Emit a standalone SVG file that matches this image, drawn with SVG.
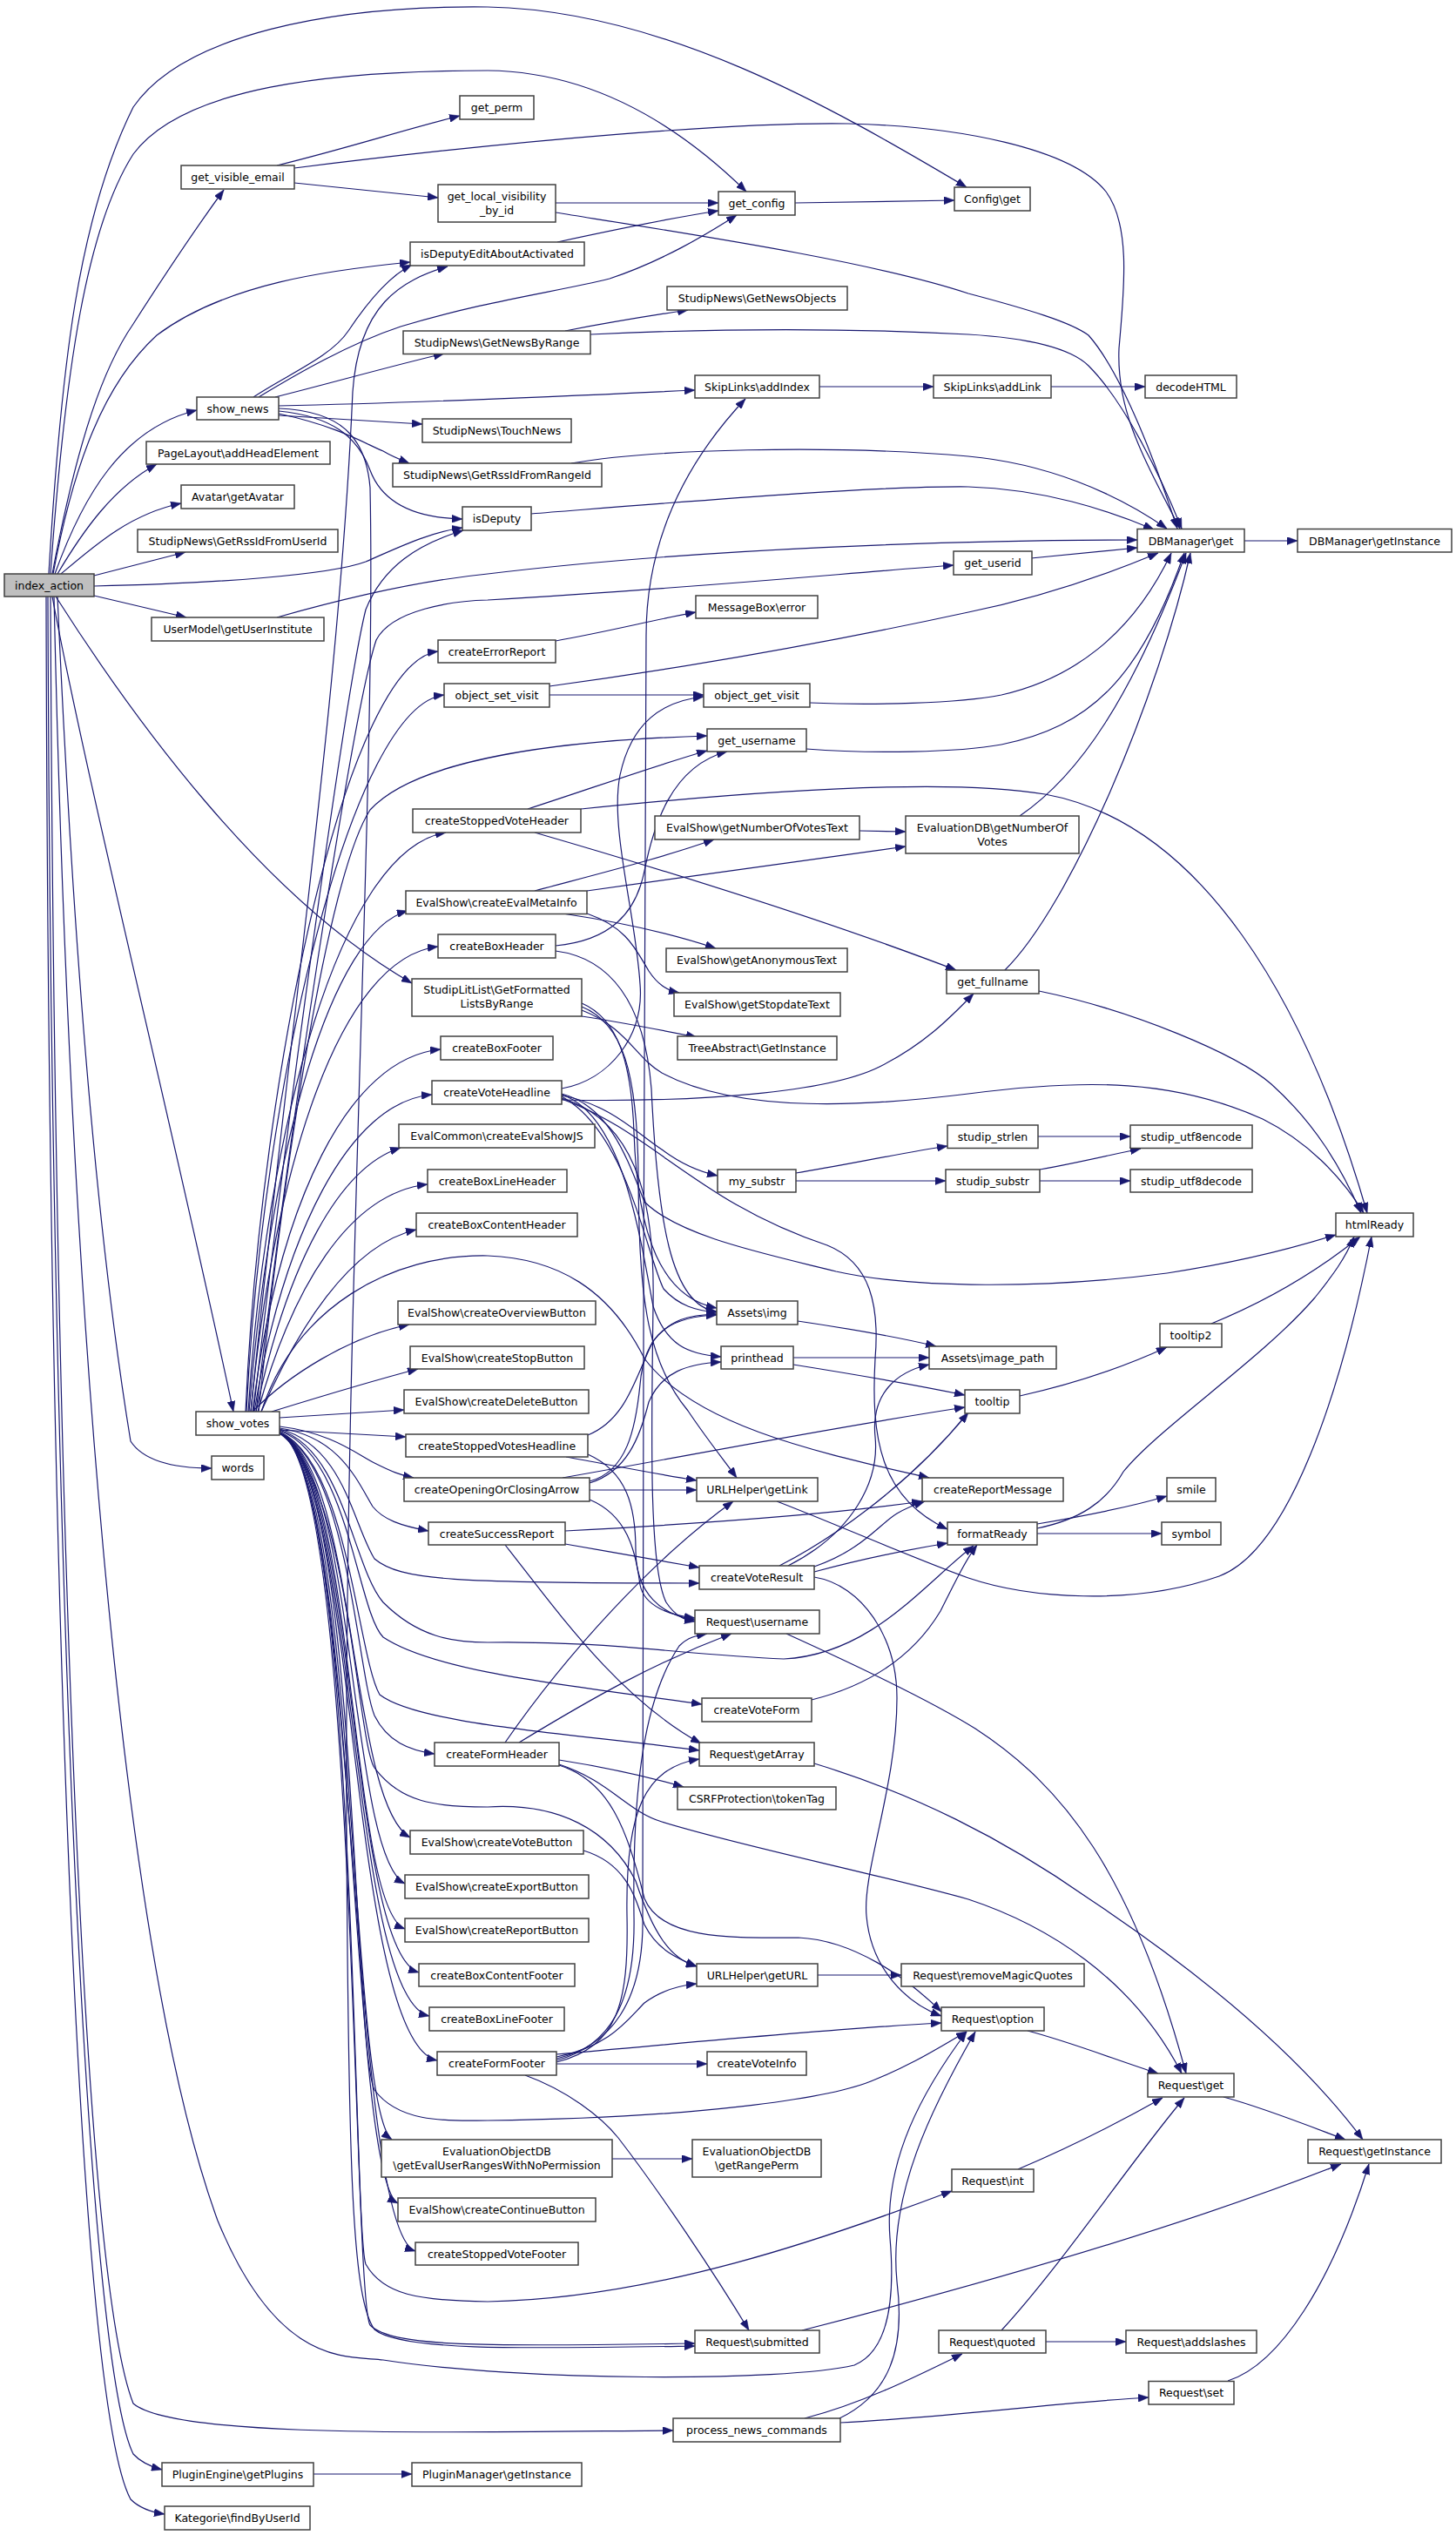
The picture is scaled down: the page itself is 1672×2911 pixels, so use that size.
<svg xmlns="http://www.w3.org/2000/svg" width="1672" height="2911" viewBox="0 0 1672 2911">
<defs>
<marker id="ah" viewBox="0 0 12 9" refX="12" refY="4.5" markerWidth="12" markerHeight="9" orient="auto" markerUnits="userSpaceOnUse"><path d="M0,0 L12,4.5 L0,9 z" fill="#191970" stroke="#191970" stroke-width="0.5"/></marker>
<style>
.n rect{fill:#fff;stroke:#404040;stroke-width:1.5}
.n text{font-family:'DejaVu Sans','Liberation Sans',sans-serif;font-size:12.5px;text-anchor:middle;fill:#000}
#n-index_action rect{fill:#bfbfbf}
.e path{fill:none;stroke:#191970;stroke-width:1.2;marker-end:url(#ah)}
</style>
</defs>
<rect x="0" y="0" width="1672" height="2911" fill="#fff"/>
<g id="edges" class="e">
<path d="M 60,659 C 90,500 120,420 153,372 C 185,322 225,262 257,218"/>
<path d="M 56,659 C 70,420 90,250 153,123 C 210,40 380,6 560,8 C 760,12 950,120 1110,215"/>
<path d="M 58,659 C 75,420 100,260 153,177 C 210,100 380,81 560,81 C 660,82 760,125 857,220"/>
<path d="M 61,659 C 85,530 120,440 180,385 C 260,325 380,310 471,301"/>
<path d="M 63,659 C 95,570 140,492 226,471"/>
<path d="M 66,659 C 95,610 130,560 180,533"/>
<path d="M 70,659 C 110,625 150,590 208,578"/>
<path d="M 108,661 L 213,634"/>
<path d="M 108,673 C 250,670 380,660 420,645 C 455,630 490,612 531,606"/>
<path d="M 108,684 L 214,709"/>
<path d="M 64,685 C 150,820 300,1030 473,1129"/>
<path d="M 60,685 C 100,900 200,1300 268,1621"/>
<path d="M 66,685 C 80,1000 105,1380 150,1655 C 165,1678 200,1686 243,1686"/>
<path d="M 62,685 C 80,1500 140,2250 250,2550 C 320,2720 400,2705 440,2710 C 600,2735 900,2735 981,2716 C 1020,2700 1028,2640 1022,2570 C 1015,2480 1060,2400 1110,2333"/>
<path d="M 58,685 C 62,1600 90,2600 153,2760 C 200,2800 500,2793 773,2791"/>
<path d="M 55,685 C 58,1700 95,2700 153,2818 C 162,2828 175,2833 186,2836"/>
<path d="M 53,685 C 55,1700 85,2750 150,2870 C 160,2880 175,2885 189,2887"/>
<path d="M 318,190 C 400,170 460,150 528,133"/>
<path d="M 338,210 L 503,227"/>
<path d="M 338,193 C 600,160 850,140 974,142 C 1100,145 1230,170 1270,220 C 1300,260 1290,340 1285,400 C 1282,470 1310,520 1355,607"/>
<path d="M 638,233 L 825,233"/>
<path d="M 638,244 C 800,270 1000,300 1112,337 C 1180,355 1230,370 1250,385 C 1290,430 1330,540 1352,607"/>
<path d="M 640,278 C 700,265 760,252 825,242"/>
<path d="M 291,456 C 330,430 380,410 400,380 C 420,350 445,318 473,304"/>
<path d="M 297,456 C 340,430 400,395 460,375 C 560,345 640,335 700,320 C 760,300 810,270 846,247"/>
<path d="M 316,456 C 380,440 450,420 510,406"/>
<path d="M 320,466 C 500,462 650,455 798,448"/>
<path d="M 320,477 L 485,487"/>
<path d="M 320,475 C 390,490 420,510 440,518 C 450,524 460,528 470,532"/>
<path d="M 320,472 C 380,478 410,500 425,540 C 440,580 480,595 531,596"/>
<path d="M 320,469 C 390,472 420,500 425,560 C 432,900 395,1500 398,2100 C 400,2500 405,2640 430,2675 C 460,2700 600,2697 798,2694"/>
<path d="M 649,380 C 700,370 750,362 790,356"/>
<path d="M 678,384 C 850,376 1000,378 1112,384 C 1180,388 1230,400 1250,420 C 1290,460 1330,540 1357,607"/>
<path d="M 941,444 L 1072,444"/>
<path d="M 1207,444 L 1315,444"/>
<path d="M 656,532 C 750,516 950,510 1112,524 C 1200,532 1280,565 1340,607"/>
<path d="M 610,590 C 800,575 1000,558 1112,559 C 1200,562 1270,585 1325,608"/>
<path d="M 318,709 C 420,680 500,665 560,659 C 800,630 1100,620 1306,620"/>
<path d="M 1184,641 L 1306,629"/>
<path d="M 1429,621 L 1490,621"/>
<path d="M 913,233 C 980,232 1040,231 1096,230"/>
<path d="M 288,1621 C 330,1200 390,800 405,450 C 412,350 460,322 514,306"/>
<path d="M 291,1621 C 340,1200 400,780 420,700 C 440,650 480,625 532,609"/>
<path d="M 294,1621 C 345,1200 410,800 432,735 C 450,700 520,690 560,689 C 800,675 950,660 1095,649"/>
<path d="M 297,1621 C 330,1300 380,1000 425,930 C 480,870 650,850 812,845"/>
<path d="M 282,1621 C 300,1220 400,760 503,748"/>
<path d="M 283,1621 C 302,1240 405,810 510,798"/>
<path d="M 285,1621 C 305,1300 390,975 512,956"/>
<path d="M 286,1621 C 310,1320 380,1070 468,1046"/>
<path d="M 288,1621 C 315,1340 390,1100 503,1087"/>
<path d="M 290,1621 C 320,1380 400,1215 506,1205"/>
<path d="M 292,1621 C 325,1420 400,1265 496,1257"/>
<path d="M 294,1621 C 330,1450 390,1340 460,1318"/>
<path d="M 296,1621 C 335,1480 400,1370 491,1360"/>
<path d="M 300,1621 C 340,1530 400,1430 478,1412"/>
<path d="M 290,1621 C 330,1580 400,1535 470,1521"/>
<path d="M 312,1621 C 380,1600 430,1585 480,1572"/>
<path d="M 321,1628 L 464,1619"/>
<path d="M 300,1621 C 340,1500 450,1440 560,1442 C 640,1445 700,1480 740,1560 C 800,1640 950,1670 1067,1697"/>
<path d="M 321,1642 L 466,1650"/>
<path d="M 321,1638 C 380,1645 410,1670 430,1680 C 450,1690 460,1694 475,1697"/>
<path d="M 321,1640 C 390,1650 410,1700 428,1730 C 440,1745 460,1752 492,1758"/>
<path d="M 321,1641 C 395,1660 405,1750 430,1790 C 460,1815 520,1818 803,1818"/>
<path d="M 321,1642 C 395,1665 405,1800 440,1840 C 480,1880 520,1886 560,1886 C 700,1884 780,1900 900,1905 C 1000,1900 1060,1820 1118,1775"/>
<path d="M 321,1643 C 400,1670 410,1850 440,1880 C 500,1920 650,1935 806,1957"/>
<path d="M 321,1644 C 400,1680 410,1900 436,1946 C 480,1980 650,1990 803,2010"/>
<path d="M 321,1645 C 400,1680 410,1920 430,1970 C 445,2000 470,2010 499,2014"/>
<path d="M 321,1646 C 400,1700 410,2000 430,2030 C 460,2070 500,2075 560,2075 C 640,2070 700,2100 730,2160 C 750,2220 770,2250 800,2258"/>
<path d="M 321,1646 C 410,1680 400,2070 471,2110"/>
<path d="M 321,1646 C 410,1680 400,2130 465,2163"/>
<path d="M 321,1646 C 410,1680 400,2190 465,2215"/>
<path d="M 321,1646 C 410,1680 400,2240 481,2265"/>
<path d="M 321,1646 C 410,1680 400,2295 493,2315"/>
<path d="M 321,1646 C 410,1680 400,2345 502,2366"/>
<path d="M 321,1646 C 410,1680 405,2350 430,2400 C 460,2440 520,2435 560,2435 C 800,2432 950,2410 1000,2390 C 1050,2370 1080,2350 1110,2333"/>
<path d="M 321,1646 C 410,1680 400,2420 450,2457"/>
<path d="M 321,1646 C 410,1680 400,2500 457,2530"/>
<path d="M 321,1646 C 410,1680 400,2560 477,2585"/>
<path d="M 321,1646 C 410,1680 405,2560 420,2600 C 440,2635 480,2642 560,2643 C 750,2640 950,2570 1093,2516"/>
<path d="M 321,1646 C 410,1680 405,2640 425,2670 C 450,2695 550,2695 798,2691"/>
<path d="M 638,736 C 700,725 750,712 799,703"/>
<path d="M 631,798 L 808,798"/>
<path d="M 631,788 C 800,765 950,738 1112,703 C 1200,685 1270,660 1330,635"/>
<path d="M 930,807 C 1000,810 1100,808 1150,798 C 1230,780 1300,730 1345,635"/>
<path d="M 926,860 C 1000,866 1100,864 1150,855 C 1250,835 1310,780 1360,635"/>
<path d="M 606,929 C 680,905 750,880 812,862"/>
<path d="M 667,929 C 900,905 1100,895 1200,912 C 1380,945 1500,1150 1570,1393"/>
<path d="M 614,956 C 800,1010 970,1065 1098,1114"/>
<path d="M 614,1023 C 700,1000 760,985 820,964"/>
<path d="M 674,1023 C 800,1005 950,985 1040,972"/>
<path d="M 646,1049 C 720,1060 780,1075 822,1089"/>
<path d="M 674,1049 C 720,1065 730,1090 745,1115 C 755,1130 765,1137 780,1140"/>
<path d="M 987,954 L 1040,955"/>
<path d="M 1171,937 C 1240,890 1300,800 1362,635"/>
<path d="M 638,1086 C 700,1080 730,1050 740,1000 C 750,950 770,880 835,863"/>
<path d="M 638,1092 C 700,1100 740,1150 748,1250 C 755,1400 770,1500 823,1506"/>
<path d="M 668,1167 C 720,1175 760,1183 800,1191"/>
<path d="M 668,1160 C 720,1180 730,1215 760,1232 C 850,1280 1000,1270 1112,1256 C 1250,1238 1350,1240 1450,1285 C 1500,1310 1540,1350 1566,1393"/>
<path d="M 668,1152 C 710,1170 725,1220 728,1300 C 732,1420 760,1490 823,1502"/>
<path d="M 668,1156 C 715,1175 732,1230 733,1350 C 734,1480 740,1560 790,1620 C 810,1650 830,1675 846,1697"/>
<path d="M 645,1250 C 700,1240 740,1190 735,1130 C 730,1050 700,950 712,890 C 725,830 760,805 808,800"/>
<path d="M 645,1263 C 800,1266 950,1255 1010,1225 C 1060,1200 1090,1170 1118,1141"/>
<path d="M 645,1258 C 700,1268 730,1300 760,1320 C 780,1335 800,1345 824,1350"/>
<path d="M 645,1256 C 700,1270 720,1330 740,1380 C 780,1420 880,1440 960,1460 C 1050,1480 1200,1480 1340,1462 C 1420,1450 1480,1435 1534,1418"/>
<path d="M 645,1259 C 720,1300 742,1440 762,1480 C 780,1500 800,1505 823,1507"/>
<path d="M 645,1262 C 750,1300 800,1380 950,1430 C 1000,1450 1010,1500 1005,1560 C 1000,1650 1010,1720 1088,1756"/>
<path d="M 645,1261 C 740,1290 752,1400 750,1500 C 748,1650 745,1800 765,1840 C 775,1855 785,1860 798,1862"/>
<path d="M 645,1257 C 715,1280 735,1420 750,1500 C 765,1545 790,1555 828,1558"/>
<path d="M 914,1347 C 970,1338 1030,1325 1088,1316"/>
<path d="M 914,1356 L 1086,1356"/>
<path d="M 1192,1305 L 1298,1305"/>
<path d="M 1194,1343 C 1240,1335 1280,1325 1310,1319"/>
<path d="M 1194,1356 L 1298,1356"/>
<path d="M 1153,1115 C 1230,1040 1330,800 1367,635"/>
<path d="M 1193,1138 C 1300,1160 1420,1210 1460,1245 C 1510,1290 1540,1340 1563,1393"/>
<path d="M 916,1517 C 970,1525 1030,1535 1075,1546"/>
<path d="M 911,1559 L 1067,1559"/>
<path d="M 911,1567 C 980,1578 1050,1590 1108,1602"/>
<path d="M 1171,1603 C 1230,1590 1290,1570 1340,1547"/>
<path d="M 1391,1520 C 1440,1500 1500,1470 1562,1420"/>
<path d="M 1191,1750 C 1250,1740 1300,1730 1340,1718"/>
<path d="M 1191,1761 L 1334,1761"/>
<path d="M 1191,1755 C 1240,1745 1270,1725 1290,1690 C 1330,1640 1450,1560 1510,1490 C 1530,1465 1545,1445 1555,1420"/>
<path d="M 892,1724 C 960,1750 1050,1790 1112,1812 C 1180,1835 1300,1845 1400,1810 C 1480,1780 1540,1600 1575,1420"/>
<path d="M 675,1648 C 720,1630 730,1580 750,1540 C 770,1515 790,1510 823,1509"/>
<path d="M 650,1673 C 700,1682 750,1692 800,1700"/>
<path d="M 675,1670 C 720,1690 730,1730 730,1780 C 730,1830 760,1855 798,1860"/>
<path d="M 677,1701 C 720,1690 730,1640 735,1590 C 740,1530 770,1512 823,1510"/>
<path d="M 677,1703 C 720,1690 735,1650 745,1610 C 760,1575 790,1566 828,1564"/>
<path d="M 646,1697 C 800,1670 950,1640 1108,1616"/>
<path d="M 677,1711 L 800,1711"/>
<path d="M 677,1722 C 720,1740 730,1780 735,1820 C 740,1845 770,1855 798,1858"/>
<path d="M 649,1758 C 800,1750 950,1740 1059,1724"/>
<path d="M 649,1773 C 700,1782 760,1792 803,1800"/>
<path d="M 580,1774 C 640,1850 710,1950 805,2002"/>
<path d="M 895,1798 C 950,1770 1040,1710 1112,1622"/>
<path d="M 905,1798 C 980,1760 1010,1700 1005,1650 C 1000,1600 1030,1575 1067,1567"/>
<path d="M 935,1799 C 990,1780 1010,1750 1030,1738 C 1040,1732 1050,1728 1062,1724"/>
<path d="M 935,1805 C 990,1790 1040,1780 1088,1772"/>
<path d="M 935,1811 C 990,1820 1030,1880 1030,1950 C 1030,2050 990,2150 995,2200 C 1000,2260 1040,2300 1081,2315"/>
<path d="M 903,1876 C 1000,1920 1080,1960 1120,1985 C 1220,2050 1300,2150 1362,2381"/>
<path d="M 932,1952 C 1000,1935 1050,1900 1080,1850 C 1100,1810 1110,1790 1122,1774"/>
<path d="M 935,2025 C 1050,2060 1150,2110 1250,2180 C 1400,2280 1500,2370 1565,2457"/>
<path d="M 580,2001 C 650,1900 750,1790 842,1724"/>
<path d="M 596,2001 C 680,1950 750,1910 840,1876"/>
<path d="M 642,2021 C 700,2030 750,2042 785,2052"/>
<path d="M 642,2026 C 700,2045 720,2080 760,2092 C 850,2120 1000,2150 1112,2181 C 1200,2210 1300,2270 1357,2381"/>
<path d="M 642,2027 C 700,2045 720,2100 740,2180 C 760,2230 850,2225 917,2225 C 980,2228 1040,2270 1081,2310"/>
<path d="M 670,2125 C 720,2140 730,2180 740,2210 C 755,2240 780,2250 800,2258"/>
<path d="M 639,2362 C 700,2350 720,2320 740,2300 C 760,2285 780,2280 800,2278"/>
<path d="M 639,2359 C 800,2345 950,2330 1081,2323"/>
<path d="M 639,2370 L 812,2370"/>
<path d="M 603,2383 C 650,2400 690,2430 710,2455 C 760,2520 820,2610 860,2676"/>
<path d="M 639,2364 C 700,2350 740,2300 738,2200 C 735,1900 742,1100 742,730 C 742,660 760,560 856,458"/>
<path d="M 639,2366 C 700,2350 730,2300 728,2200 C 726,2050 740,1950 780,1890 C 790,1880 800,1878 812,1876"/>
<path d="M 639,2368 C 710,2350 722,2300 720,2200 C 718,2080 740,2030 803,2020"/>
<path d="M 939,2268 L 1035,2268"/>
<path d="M 703,2479 L 795,2479"/>
<path d="M 921,2676 C 1100,2630 1350,2560 1540,2485"/>
<path d="M 1169,2491 C 1230,2465 1280,2440 1335,2409"/>
<path d="M 1180,2332 C 1230,2345 1280,2365 1330,2381"/>
<path d="M 1405,2408 C 1450,2420 1500,2440 1545,2457"/>
<path d="M 1150,2676 C 1220,2600 1300,2480 1360,2409"/>
<path d="M 1201,2689 L 1293,2689"/>
<path d="M 1410,2734 C 1470,2715 1530,2620 1572,2485"/>
<path d="M 924,2777 C 990,2760 1050,2730 1105,2703"/>
<path d="M 965,2782 C 1100,2775 1200,2760 1319,2753"/>
<path d="M 964,2777 C 1020,2750 1040,2700 1030,2620 C 1020,2520 1070,2420 1120,2333"/>
<path d="M 360,2841 L 473,2841"/>
</g>
<g id="n-index_action" class="n"><rect x="5" y="659" width="103" height="26"/><text x="56.5" y="676.5">index_action</text></g>
<g id="n-get_visible_email" class="n"><rect x="208" y="190" width="130" height="27"/><text x="273" y="208">get_visible_email</text></g>
<g id="n-show_news" class="n"><rect x="226" y="456" width="94" height="26"/><text x="273" y="473.5">show_news</text></g>
<g id="n-addHeadElement" class="n"><rect x="168" y="507" width="211" height="26"/><text x="273.5" y="524.5">PageLayout\addHeadElement</text></g>
<g id="n-getAvatar" class="n"><rect x="208" y="557" width="130" height="27"/><text x="273" y="575">Avatar\getAvatar</text></g>
<g id="n-GetRssIdFromUserId" class="n"><rect x="158" y="608" width="230" height="26"/><text x="273" y="625.5">StudipNews\GetRssIdFromUserId</text></g>
<g id="n-getUserInstitute" class="n"><rect x="174" y="709" width="198" height="27"/><text x="273" y="727">UserModel\getUserInstitute</text></g>
<g id="n-show_votes" class="n"><rect x="225" y="1621" width="96" height="27"/><text x="273" y="1639">show_votes</text></g>
<g id="n-words" class="n"><rect x="243" y="1672" width="60" height="27"/><text x="273" y="1690">words</text></g>
<g id="n-getPlugins" class="n"><rect x="186" y="2828" width="174" height="27"/><text x="273" y="2846">PluginEngine\getPlugins</text></g>
<g id="n-findByUserId" class="n"><rect x="189" y="2878" width="167" height="27"/><text x="272.5" y="2896">Kategorie\findByUserId</text></g>
<g id="n-get_perm" class="n"><rect x="528" y="110" width="85" height="27"/><text x="570.5" y="128">get_perm</text></g>
<g id="n-get_local_visibility_by_id" class="n"><rect x="503" y="212" width="135" height="43"/><text x="570.5" y="229.5">get_local_visibility</text><text x="570.5" y="245.5">_by_id</text></g>
<g id="n-isDeputyEditAboutActivated" class="n"><rect x="471" y="278" width="200" height="27"/><text x="571" y="296">isDeputyEditAboutActivated</text></g>
<g id="n-GetNewsByRange" class="n"><rect x="463" y="380" width="215" height="26.5"/><text x="570.5" y="397.5">StudipNews\GetNewsByRange</text></g>
<g id="n-TouchNews" class="n"><rect x="485" y="481" width="171" height="27"/><text x="570.5" y="499">StudipNews\TouchNews</text></g>
<g id="n-GetRssIdFromRangeId" class="n"><rect x="451" y="532" width="240" height="27"/><text x="571" y="550">StudipNews\GetRssIdFromRangeId</text></g>
<g id="n-isDeputy" class="n"><rect x="531" y="582" width="79" height="27"/><text x="570.5" y="600">isDeputy</text></g>
<g id="n-createErrorReport" class="n"><rect x="503" y="735" width="135" height="26"/><text x="570.5" y="752.5">createErrorReport</text></g>
<g id="n-object_set_visit" class="n"><rect x="510" y="785" width="121" height="27"/><text x="570.5" y="803">object_set_visit</text></g>
<g id="n-createStoppedVoteHeader" class="n"><rect x="474" y="929" width="193" height="27"/><text x="570.5" y="947">createStoppedVoteHeader</text></g>
<g id="n-createEvalMetaInfo" class="n"><rect x="466" y="1023" width="208" height="26.5"/><text x="570" y="1040.5">EvalShow\createEvalMetaInfo</text></g>
<g id="n-createBoxHeader" class="n"><rect x="503" y="1073" width="135" height="27"/><text x="570.5" y="1091">createBoxHeader</text></g>
<g id="n-GetFormattedListsByRange" class="n"><rect x="473" y="1124" width="195" height="43"/><text x="570.5" y="1141">StudipLitList\GetFormatted</text><text x="570.5" y="1157">ListsByRange</text></g>
<g id="n-createBoxFooter" class="n"><rect x="506" y="1190" width="129" height="27"/><text x="570.5" y="1208">createBoxFooter</text></g>
<g id="n-createVoteHeadline" class="n"><rect x="496" y="1241" width="149" height="27"/><text x="570.5" y="1259">createVoteHeadline</text></g>
<g id="n-createEvalShowJS" class="n"><rect x="458" y="1291" width="225" height="27"/><text x="570.5" y="1309">EvalCommon\createEvalShowJS</text></g>
<g id="n-createBoxLineHeader" class="n"><rect x="491" y="1343" width="160" height="26"/><text x="571" y="1360.5">createBoxLineHeader</text></g>
<g id="n-createBoxContentHeader" class="n"><rect x="478" y="1393" width="185" height="27"/><text x="570.5" y="1411">createBoxContentHeader</text></g>
<g id="n-createOverviewButton" class="n"><rect x="457" y="1494" width="227" height="27"/><text x="570.5" y="1512">EvalShow\createOverviewButton</text></g>
<g id="n-createStopButton" class="n"><rect x="471" y="1546" width="200" height="26"/><text x="571" y="1563.5">EvalShow\createStopButton</text></g>
<g id="n-createDeleteButton" class="n"><rect x="464" y="1596" width="212" height="27"/><text x="570" y="1614">EvalShow\createDeleteButton</text></g>
<g id="n-createStoppedVotesHeadline" class="n"><rect x="466" y="1647" width="209" height="26"/><text x="570.5" y="1664.5">createStoppedVotesHeadline</text></g>
<g id="n-createOpeningOrClosingArrow" class="n"><rect x="464" y="1697" width="213" height="27"/><text x="570.5" y="1715">createOpeningOrClosingArrow</text></g>
<g id="n-createSuccessReport" class="n"><rect x="492" y="1748" width="157" height="26"/><text x="570.5" y="1765.5">createSuccessReport</text></g>
<g id="n-createFormHeader" class="n"><rect x="499" y="2001" width="143" height="27"/><text x="570.5" y="2019">createFormHeader</text></g>
<g id="n-createVoteButton" class="n"><rect x="471" y="2102" width="199" height="27"/><text x="570.5" y="2120">EvalShow\createVoteButton</text></g>
<g id="n-createExportButton" class="n"><rect x="465" y="2153" width="211" height="27"/><text x="570.5" y="2171">EvalShow\createExportButton</text></g>
<g id="n-createReportButton" class="n"><rect x="465" y="2203" width="211" height="27"/><text x="570.5" y="2221">EvalShow\createReportButton</text></g>
<g id="n-createBoxContentFooter" class="n"><rect x="481" y="2255" width="179" height="26"/><text x="570.5" y="2272.5">createBoxContentFooter</text></g>
<g id="n-createBoxLineFooter" class="n"><rect x="493" y="2305" width="155" height="27"/><text x="570.5" y="2323">createBoxLineFooter</text></g>
<g id="n-createFormFooter" class="n"><rect x="502" y="2356" width="137" height="27"/><text x="570.5" y="2374">createFormFooter</text></g>
<g id="n-getEvalUserRangesWithNoPermission" class="n"><rect x="438" y="2457" width="265" height="43"/><text x="570.5" y="2474.5">EvaluationObjectDB</text><text x="570.5" y="2490.5">\getEvalUserRangesWithNoPermission</text></g>
<g id="n-createContinueButton" class="n"><rect x="457" y="2524" width="227" height="27"/><text x="570.5" y="2542">EvalShow\createContinueButton</text></g>
<g id="n-createStoppedVoteFooter" class="n"><rect x="477" y="2575" width="187" height="26"/><text x="570.5" y="2592.5">createStoppedVoteFooter</text></g>
<g id="n-PluginManager_getInstance" class="n"><rect x="473" y="2828" width="195" height="27"/><text x="570.5" y="2846">PluginManager\getInstance</text></g>
<g id="n-get_config" class="n"><rect x="825" y="220" width="88" height="27"/><text x="869" y="238">get_config</text></g>
<g id="n-GetNewsObjects" class="n"><rect x="766" y="329" width="207" height="27"/><text x="869.5" y="347">StudipNews\GetNewsObjects</text></g>
<g id="n-addIndex" class="n"><rect x="798" y="431" width="143" height="26"/><text x="869.5" y="448.5">SkipLinks\addIndex</text></g>
<g id="n-MessageBox_error" class="n"><rect x="799" y="684" width="140" height="26"/><text x="869" y="701.5">MessageBox\error</text></g>
<g id="n-object_get_visit" class="n"><rect x="808" y="785" width="122" height="27"/><text x="869" y="803">object_get_visit</text></g>
<g id="n-get_username" class="n"><rect x="812" y="837" width="114" height="26"/><text x="869" y="854.5">get_username</text></g>
<g id="n-getNumberOfVotesText" class="n"><rect x="752" y="937" width="235" height="27"/><text x="869.5" y="955">EvalShow\getNumberOfVotesText</text></g>
<g id="n-getAnonymousText" class="n"><rect x="765" y="1089" width="208" height="27"/><text x="869" y="1107">EvalShow\getAnonymousText</text></g>
<g id="n-getStopdateText" class="n"><rect x="774" y="1140" width="191" height="27"/><text x="869.5" y="1158">EvalShow\getStopdateText</text></g>
<g id="n-TreeAbstract_GetInstance" class="n"><rect x="778" y="1190" width="183" height="27"/><text x="869.5" y="1208">TreeAbstract\GetInstance</text></g>
<g id="n-my_substr" class="n"><rect x="824" y="1343" width="90" height="26"/><text x="869" y="1360.5">my_substr</text></g>
<g id="n-Assets_img" class="n"><rect x="823" y="1494" width="93" height="27"/><text x="869.5" y="1512">Assets\img</text></g>
<g id="n-printhead" class="n"><rect x="828" y="1546" width="83" height="26"/><text x="869.5" y="1563.5">printhead</text></g>
<g id="n-getLink" class="n"><rect x="800" y="1697" width="139" height="27"/><text x="869.5" y="1715">URLHelper\getLink</text></g>
<g id="n-createVoteResult" class="n"><rect x="803" y="1798" width="132" height="27"/><text x="869" y="1816">createVoteResult</text></g>
<g id="n-Request_username" class="n"><rect x="798" y="1849" width="143" height="27"/><text x="869.5" y="1867">Request\username</text></g>
<g id="n-createVoteForm" class="n"><rect x="806" y="1950" width="126" height="27"/><text x="869" y="1968">createVoteForm</text></g>
<g id="n-Request_getArray" class="n"><rect x="803" y="2001" width="132" height="27"/><text x="869" y="2019">Request\getArray</text></g>
<g id="n-tokenTag" class="n"><rect x="778" y="2052" width="182" height="26"/><text x="869" y="2069.5">CSRFProtection\tokenTag</text></g>
<g id="n-getURL" class="n"><rect x="800" y="2255" width="139" height="26"/><text x="869.5" y="2272.5">URLHelper\getURL</text></g>
<g id="n-createVoteInfo" class="n"><rect x="812" y="2356" width="114" height="27"/><text x="869" y="2374">createVoteInfo</text></g>
<g id="n-getRangePerm" class="n"><rect x="795" y="2457" width="148" height="43"/><text x="869" y="2474.5">EvaluationObjectDB</text><text x="869" y="2490.5">\getRangePerm</text></g>
<g id="n-Request_submitted" class="n"><rect x="798" y="2676" width="143" height="26"/><text x="869.5" y="2693.5">Request\submitted</text></g>
<g id="n-process_news_commands" class="n"><rect x="773" y="2777" width="192" height="27"/><text x="869" y="2795">process_news_commands</text></g>
<g id="n-Config_get" class="n"><rect x="1096" y="215" width="87" height="27"/><text x="1139.5" y="233">Config\get</text></g>
<g id="n-addLink" class="n"><rect x="1072" y="431" width="135" height="26"/><text x="1139.5" y="448.5">SkipLinks\addLink</text></g>
<g id="n-get_userid" class="n"><rect x="1095" y="633" width="90" height="27"/><text x="1140" y="651">get_userid</text></g>
<g id="n-getNumberOfVotes" class="n"><rect x="1040" y="937" width="199" height="43"/><text x="1139.5" y="954.5">EvaluationDB\getNumberOf</text><text x="1139.5" y="970.5">Votes</text></g>
<g id="n-get_fullname" class="n"><rect x="1087" y="1114" width="106" height="27"/><text x="1140" y="1132">get_fullname</text></g>
<g id="n-studip_strlen" class="n"><rect x="1088" y="1292" width="104" height="26.5"/><text x="1140" y="1309.5">studip_strlen</text></g>
<g id="n-studip_substr" class="n"><rect x="1086" y="1343" width="108" height="26"/><text x="1140" y="1360.5">studip_substr</text></g>
<g id="n-image_path" class="n"><rect x="1067" y="1546" width="146" height="26"/><text x="1140" y="1563.5">Assets\image_path</text></g>
<g id="n-tooltip" class="n"><rect x="1108" y="1596" width="63" height="27"/><text x="1139.5" y="1614">tooltip</text></g>
<g id="n-createReportMessage" class="n"><rect x="1059" y="1697" width="162" height="27"/><text x="1140" y="1715">createReportMessage</text></g>
<g id="n-formatReady" class="n"><rect x="1088" y="1748" width="103" height="26"/><text x="1139.5" y="1765.5">formatReady</text></g>
<g id="n-removeMagicQuotes" class="n"><rect x="1035" y="2255" width="210" height="26"/><text x="1140" y="2272.5">Request\removeMagicQuotes</text></g>
<g id="n-Request_option" class="n"><rect x="1081" y="2305" width="118" height="27"/><text x="1140" y="2323">Request\option</text></g>
<g id="n-Request_int" class="n"><rect x="1093" y="2491" width="94" height="26"/><text x="1140" y="2508.5">Request\int</text></g>
<g id="n-Request_quoted" class="n"><rect x="1078" y="2676" width="123" height="26"/><text x="1139.5" y="2693.5">Request\quoted</text></g>
<g id="n-decodeHTML" class="n"><rect x="1315" y="431" width="105" height="26"/><text x="1367.5" y="448.5">decodeHTML</text></g>
<g id="n-DBManager_get" class="n"><rect x="1306" y="607.5" width="123" height="26.5"/><text x="1367.5" y="625.5">DBManager\get</text></g>
<g id="n-studip_utf8encode" class="n"><rect x="1298" y="1292" width="140" height="26.5"/><text x="1368" y="1309.5">studip_utf8encode</text></g>
<g id="n-studip_utf8decode" class="n"><rect x="1298" y="1343" width="140" height="26"/><text x="1368" y="1360.5">studip_utf8decode</text></g>
<g id="n-tooltip2" class="n"><rect x="1332" y="1520" width="71" height="27"/><text x="1367.5" y="1538">tooltip2</text></g>
<g id="n-smile" class="n"><rect x="1340" y="1697" width="56" height="27"/><text x="1368" y="1715">smile</text></g>
<g id="n-symbol" class="n"><rect x="1334" y="1748" width="68" height="26"/><text x="1368" y="1765.5">symbol</text></g>
<g id="n-Request_get" class="n"><rect x="1318" y="2381" width="99" height="27"/><text x="1367.5" y="2399">Request\get</text></g>
<g id="n-addslashes" class="n"><rect x="1293" y="2676" width="150" height="26"/><text x="1368" y="2693.5">Request\addslashes</text></g>
<g id="n-Request_set" class="n"><rect x="1319" y="2734.5" width="98" height="26.5"/><text x="1368" y="2752">Request\set</text></g>
<g id="n-DBManager_getInstance" class="n"><rect x="1490" y="607.5" width="177" height="26.5"/><text x="1578.5" y="625.5">DBManager\getInstance</text></g>
<g id="n-htmlReady" class="n"><rect x="1534" y="1393" width="89" height="27"/><text x="1578.5" y="1411">htmlReady</text></g>
<g id="n-Request_getInstance" class="n"><rect x="1502" y="2457" width="153" height="27"/><text x="1578.5" y="2475">Request\getInstance</text></g>
</svg>
